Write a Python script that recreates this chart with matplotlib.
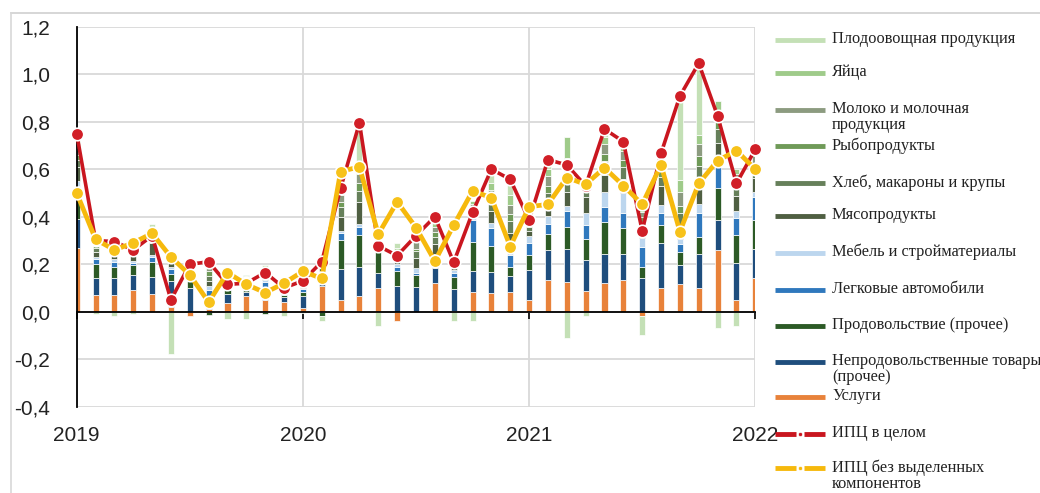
import matplotlib.pyplot as plt
from matplotlib.lines import Line2D
import numpy as np

# Monthly contributions to CPI growth, Jan 2019 - Jan 2022 (p.p.)
months = np.arange(37)
year_pos = [0, 12, 24, 36]
year_labels = ['2019', '2020', '2021', '2022']

services = [0.27, 0.07, 0.07, 0.09, 0.075, 0.02, -0.02, 0.01, 0.035, 0.065, 0.05, 0.04, 0.015,
            0.11, 0.05, 0.065, 0.10, -0.04, 0.0, 0.12, 0.005, 0.085, 0.077, 0.085, 0.05,
            0.133, 0.126, 0.088, 0.12, 0.133, -0.02, 0.10, 0.115, 0.098, 0.26, 0.05, 0.14]
nonfood = [0.12, 0.07, 0.07, 0.065, 0.07, 0.11, 0.10, 0.05, 0.04, 0.02, 0.045, 0.02, 0.05,
           0.04, 0.13, 0.125, 0.065, 0.11, 0.105, 0.065, 0.09, 0.085, 0.09, 0.065, 0.125,
           0.126, 0.14, 0.13, 0.123, 0.11, 0.14, 0.19, 0.08, 0.145, 0.126, 0.154, 0.126]
food_other = [0.08, 0.06, 0.05, 0.04, 0.065, 0.03, 0.03, -0.015, 0.015, 0.01, -0.01, 0.01, 0.02,
              -0.02, 0.12, 0.135, 0.085, 0.06, 0.05, 0.03, 0.05, 0.125, 0.11, 0.04, 0.065,
              0.07, 0.09, 0.09, 0.136, 0.108, 0.05, 0.074, 0.056, 0.073, 0.133, 0.12, 0.12]
cars = [0.06, 0.02, 0.02, 0.01, 0.02, 0.02, 0.02, 0.03, 0.015, 0.01, 0.03, 0.01, 0.01,
        0.01, 0.03, 0.03, 0.01, 0.02, 0.01, 0.01, 0.02, 0.09, 0.077, 0.05, 0.05,
        0.042, 0.07, 0.056, 0.063, 0.063, 0.084, 0.05, 0.035, 0.098, 0.09, 0.07, 0.098]
furniture = [0.02, 0.01, 0.01, 0.01, 0.01, 0.01, 0.01, 0.02, 0.01, 0.01, 0.01, 0.005, 0.005,
             0.01, 0.01, 0.015, 0.01, 0.01, 0.02, 0.02, 0.01, 0.01, 0.02, 0.03, 0.03,
             0.03, 0.02, 0.05, 0.063, 0.084, 0.035, 0.035, 0.02, 0.04, 0.02, 0.03, 0.02]
meat = [0.06, 0.02, 0.03, 0.03, 0.05, 0.02, 0.02, 0.02, 0.01, 0.01, 0.01, 0.01, 0.01,
        0.03, 0.06, 0.09, 0.02, 0.02, 0.04, 0.04, 0.02, 0.02, 0.05, 0.06, 0.02,
        0.05, 0.06, 0.07, 0.07, 0.06, 0.04, 0.08, 0.06, 0.10, 0.08, 0.065, 0.06]
bread = [0.03, 0.02, 0.01, 0.01, 0.02, 0.01, 0.01, 0.02, 0.01, 0.01, 0.01, 0.01, 0.01,
         0.01, 0.04, 0.05, 0.02, 0.02, 0.03, 0.03, 0.01, 0.02, 0.04, 0.05, 0.015,
         0.05, 0.05, 0.03, 0.06, 0.05, 0.03, 0.04, 0.05, 0.06, 0.06, 0.04, 0.04]
fish = [0.02, 0.01, 0.01, 0.005, 0.01, 0.01, 0.01, 0.02, 0.005, 0.005, 0.01, 0.01, 0.005,
        0.01, 0.02, 0.03, 0.01, 0.01, 0.01, 0.02, 0.01, 0.01, 0.02, 0.03, 0.01,
        0.03, 0.04, 0.02, 0.03, 0.03, 0.02, 0.03, 0.03, 0.04, 0.04, 0.02, 0.02]
milk = [0.03, 0.02, 0.02, 0.01, 0.02, 0.01, 0.01, 0.02, 0.005, 0.01, 0.01, 0.01, 0.005,
        0.01, 0.03, 0.04, 0.01, 0.01, 0.03, 0.02, 0.01, 0.01, 0.03, 0.04, 0.01,
        0.04, 0.05, 0.02, 0.04, 0.04, 0.02, 0.03, 0.06, 0.05, 0.04, 0.03, 0.03]
eggs = [0.02, 0.01, 0.01, 0.005, 0.01, 0.0, 0.01, 0.02, 0.005, 0.005, 0.01, 0.005, 0.005,
        0.01, 0.01, 0.03, 0.01, 0.01, 0.02, 0.02, 0.01, 0.01, 0.03, 0.04, 0.01,
        0.03, 0.09, 0.01, 0.03, 0.03, 0.02, 0.02, 0.05, 0.04, 0.04, 0.02, 0.02]
fruit_veg = [0.04, -0.01, -0.02, -0.01, 0.02, -0.18, 0.0, 0.02, -0.03, -0.03, 0.01, -0.02, -0.005,
             -0.02, 0.02, 0.19, -0.06, 0.02, 0.02, 0.04, -0.04, -0.04, 0.06, 0.06, 0.0,
             0.04, -0.11, -0.02, 0.03, 0.01, -0.08, 0.02, 0.35, 0.30, -0.07, -0.06, 0.01]

cpi_total = [0.75, 0.30, 0.295, 0.26, 0.32, 0.05, 0.20, 0.21, 0.115, 0.12, 0.165, 0.10, 0.13,
             0.21, 0.52, 0.795, 0.277, 0.236, 0.32, 0.40, 0.208, 0.418, 0.60, 0.557, 0.386,
             0.64, 0.618, 0.53, 0.769, 0.716, 0.341, 0.667, 0.908, 1.046, 0.824, 0.54, 0.684]
cpi_core = [0.50, 0.305, 0.26, 0.29, 0.33, 0.23, 0.155, 0.04, 0.165, 0.115, 0.08, 0.12, 0.17,
            0.14, 0.59, 0.61, 0.326, 0.463, 0.354, 0.213, 0.364, 0.508, 0.48, 0.274, 0.442,
            0.452, 0.565, 0.536, 0.606, 0.531, 0.452, 0.618, 0.337, 0.54, 0.636, 0.678, 0.60]

# stacking order bottom -> top
components = [
    ('Услуги', services, '#e8823a'),
    ('Непродовольственные товары\n(прочее)', nonfood, '#1f4e7d'),
    ('Продовольствие (прочее)', food_other, '#2c5a26'),
    ('Легковые автомобили', cars, '#2f78bd'),
    ('Мебель и стройматериалы', furniture, '#bcd6ee'),
    ('Мясопродукты', meat, '#4f5f42'),
    ('Хлеб, макароны и крупы', bread, '#66805a'),
    ('Рыбопродукты', fish, '#6f9a58'),
    ('Молоко и молочная\nпродукция', milk, '#8c9b80'),
    ('Яйца', eggs, '#9fcb8a'),
    ('Плодоовощная продукция', fruit_veg, '#c4e0b6'),
]
red = '#c9161f'
yellow = '#f6b90c'
tick_font = 'Liberation Sans'
legend_font = 'Liberation Serif'

fig = plt.figure(figsize=(10.4, 4.93), dpi=100)
ax = fig.add_axes([76.7 / 1040, 1 - 406.7 / 493, (755.3 - 76.7) / 1040, (406.7 - 26.7) / 493])

pos_base = np.zeros(len(months))
neg_base = np.zeros(len(months))
for name, vals, color in components:
    v = np.array(vals)
    base = np.where(v >= 0, pos_base, neg_base)
    ax.bar(months, v, 0.32, bottom=base, color=color, edgecolor='white', linewidth=0.5, zorder=2)
    pos_base += np.clip(v, 0, None)
    neg_base += np.clip(v, None, 0)

ax.plot(months, cpi_total, color=red, lw=2.6, marker='o', ms=9,
        mfc='#d11f27', mec='white', mew=1.2, zorder=4, clip_on=False)
ax.plot(months, cpi_core, color=yellow, lw=3.4, marker='o', ms=9,
        mfc='#f7c21a', mec='white', mew=1.2, zorder=5, clip_on=False)

ax.set_xlim(0, 36)
ax.set_ylim(-0.4, 1.2)
yt = np.arange(-0.4, 1.21, 0.2)
ax.set_yticks(yt)
ax.set_yticklabels([f'{t:.1f}'.replace('.', ',').replace('-0,0', '0,0') for t in yt],
                   family=tick_font)
ax.tick_params(axis='y', length=0, pad=19, labelsize=15, labelcolor='#222222')
ax.grid(True, color='#d9d9d9', lw=1.3, zorder=0)
ax.set_axisbelow(True)

# x axis line at zero with small year ticks, labels at the bottom
ax.spines['bottom'].set_position(('data', 0))
ax.spines['bottom'].set_color('black')
ax.spines['bottom'].set_linewidth(1.3)
ax.set_xticks(year_pos)
ax.tick_params(axis='x', direction='out', length=5, width=1.2, labelbottom=False)
sec = ax.secondary_xaxis('bottom')
sec.set_xticks(year_pos, year_labels, family=tick_font)
sec.tick_params(length=0, pad=14, labelsize=15, labelcolor='#222222')
sec.spines['bottom'].set_visible(False)

ax.spines['left'].set_linewidth(1.3)
ax.spines['top'].set_visible(False)
ax.spines['right'].set_visible(False)

# thin frame lines along the top and left edges
fig.add_artist(Line2D([11 / 1040, 1], [1 - 13 / 493, 1 - 13 / 493], color='#d0d0d0', lw=1.2))
fig.add_artist(Line2D([11 / 1040, 11 / 1040], [0, 1 - 13 / 493], color='#d8d8d8', lw=1.2))

# legend, drawn by hand on the right
def fx(px):
    return px / 1040

def fy(py):
    return 1 - py / 493

legend_rows = [
    (components[10], 40),
    (components[9], 73),
    (components[8], 110),
    (components[7], 146),
    (components[6], 183),
    (components[5], 216),
    (components[4], 253),
    (components[3], 290),
    (components[2], 326),
    (components[1], 362),
    (components[0], 397),
]
for (name, _, color), py in legend_rows:
    fig.add_artist(Line2D([fx(775), fx(825)], [fy(py), fy(py)], color=color, lw=3.5,
                          solid_capstyle='butt'))
    fig.text(fx(832), fy(py - 9), name, family=legend_font, fontsize=11.8,
             va='top', ha='left', color='#222222', linespacing=1.0)

for label, color, py in [('ИПЦ в целом', red, 434), ('ИПЦ без выделенных\nкомпонентов', yellow, 468)]:
    fig.add_artist(Line2D([fx(775), fx(796)], [fy(py), fy(py)], color=color, lw=3.5,
                          solid_capstyle='butt'))
    fig.add_artist(Line2D([fx(804), fx(825)], [fy(py), fy(py)], color=color, lw=3.5,
                          solid_capstyle='butt'))
    fig.add_artist(Line2D([fx(800)], [fy(py)], marker='o', ms=3, color=color, mec='white', mew=0.5))
    fig.text(fx(832), fy(py - 9), label, family=legend_font, fontsize=11.8,
             va='top', ha='left', color='#222222', linespacing=1.0)

fig.savefig('out.png', dpi=100)
